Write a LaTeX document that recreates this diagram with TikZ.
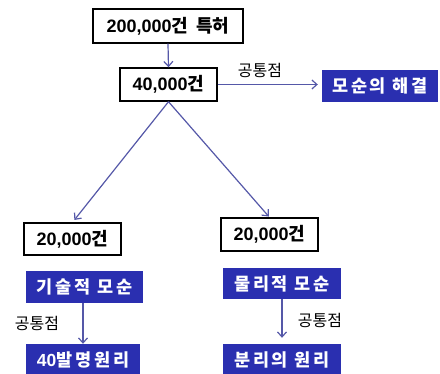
\documentclass[tikz,border=0pt]{standalone}
\usepackage{fontspec}
\setmainfont{Liberation Sans}
\newfontfamily\kr{Noto Sans CJK KR}
\newfontfamily\krsp{Noto Sans CJK KR}[LetterSpace=16]
\usetikzlibrary{arrows.meta}
\definecolor{boxblue}{HTML}{2A2FB0}
\definecolor{arrblue}{HTML}{5558A8}
\tikzset{
  wbox/.style={draw=black, line width=1.4pt, fill=white, inner sep=0pt, font=\fontsize{18}{20}\selectfont\bfseries, text=black},
  bbox/.style={fill=boxblue, draw=none, inner sep=0pt, font=\fontsize{17.5}{19}\selectfont\bfseries, text=white},
  conn/.style={draw=arrblue, line width=1.2pt, -{Straight Barb[length=5pt,width=9pt]}},
  lbl/.style={font=\fontsize{16}{18}\selectfont, text=black, inner sep=0pt}
}
\begin{document}
\begin{tikzpicture}[x=1pt,y=-1pt]
\useasboundingbox (0,0) rectangle (440,374);
\node[wbox, minimum width=150pt, minimum height=34pt] (b1) at (168,26) {200,000{\kr 건\hspace{4pt} 특허}};
\node[wbox, minimum width=97pt, minimum height=33pt] (b2) at (168.5,84.5) {40,000{\kr 건}};
\node[bbox, minimum width=116pt, minimum height=32pt] (r1) at (380,86) {\krsp 모순의 해결};
\node[wbox, minimum width=97pt, minimum height=32pt] (l20) at (72.5,239) {20,000{\kr 건}};
\node[wbox, minimum width=97pt, minimum height=33pt] (r20) at (269.5,234.5) {20,000{\kr 건}};
\node[bbox, minimum width=117pt, minimum height=32pt] (lt) at (84.5,287) {\krsp 기술적 모순};
\node[bbox, minimum width=118pt, minimum height=31pt] (rp) at (282,283.5) {\krsp 물리적 모순};
\node[bbox, minimum width=114pt, minimum height=32pt] (l40) at (83,360) {40{\krsp 발명원리}};
\node[bbox, minimum width=118pt, minimum height=32pt] (rs) at (282,360) {\krsp 분리의 원리};
\node[lbl] (t1) at (260,70) {\kr 공통점};
\node[lbl] (t2) at (37,323) {\kr 공통점};
\node[lbl] (t3) at (320,320) {\kr 공통점};
\draw[conn] (b1.south) -- (b2.north);
\draw[conn, shorten >=4pt] (b2.east) -- (b2.east -| r1.west);
\draw[conn, shorten >=3pt] (b2.south) -- (l20.north);
\draw[conn, shorten >=1pt] (b2.south) -- (r20.north);
\draw[conn] (lt.south -| l40.north) -- (l40.north);
\draw[conn, shorten >=6pt] (rp.south) -- (rs.north);
\end{tikzpicture}
\end{document}
